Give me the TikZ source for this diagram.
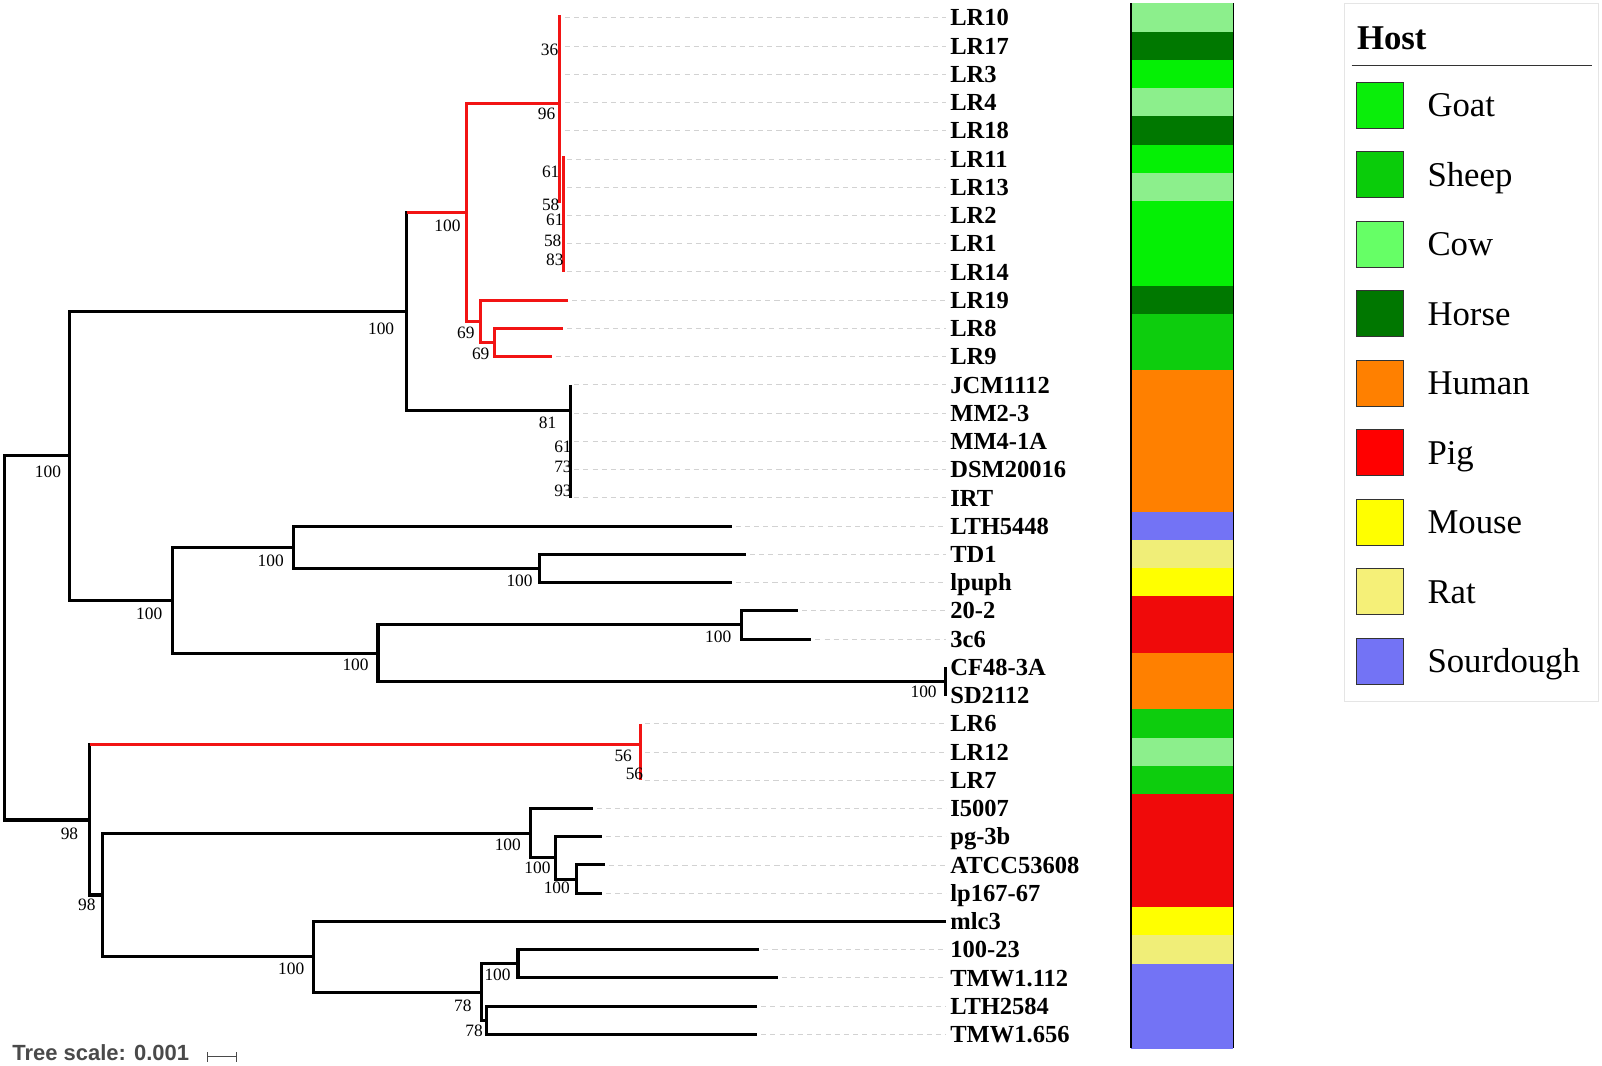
\documentclass[tikz,border=0pt]{standalone}
\usepackage{fontspec}
\setmainfont{Liberation Serif}
\newfontfamily\sansbold{Liberation Sans}
\definecolor{treered}{HTML}{F21414}
\definecolor{sGoat}{HTML}{05F005}
\definecolor{sCow}{HTML}{8CEF8C}
\definecolor{sHorse}{HTML}{007800}
\definecolor{sSheep}{HTML}{0DCD0D}
\definecolor{sHuman}{HTML}{FF8000}
\definecolor{sPig}{HTML}{F00A0A}
\definecolor{sMouse}{HTML}{FFFF00}
\definecolor{sRat}{HTML}{F0EE78}
\definecolor{sSour}{HTML}{7373F5}
\definecolor{lGoat}{HTML}{0AEE0A}
\definecolor{lSheep}{HTML}{0ACC0A}
\definecolor{lCow}{HTML}{66FF66}
\definecolor{lHorse}{HTML}{007700}
\definecolor{lHuman}{HTML}{FF8000}
\definecolor{lPig}{HTML}{FF0000}
\definecolor{lMouse}{HTML}{FFFF00}
\definecolor{lRat}{HTML}{F5F078}
\definecolor{lSour}{HTML}{7373F5}
\definecolor{scalegray}{HTML}{4A4A4A}
\begin{document}
\begin{tikzpicture}[x=1pt,y=-1pt,line join=miter,
  br/.style={line width=3pt,black},
  rbr/.style={line width=3pt,treered},
  dashline/.style={draw=gray!35,line width=0.9pt,dash pattern=on 5pt off 4pt},
  leaflab/.style={anchor=base west,inner sep=0pt,font=\fontsize{24}{26}\selectfont\bfseries},
  boot/.style={anchor=center,inner sep=0pt,font=\fontsize{17}{18}\selectfont},
  legtext/.style={anchor=base west,inner sep=0pt,font=\fontsize{34}{36}\selectfont},
  swatch/.style={draw=black!80,line width=0.8pt}]
\useasboundingbox (0,0) rectangle (1568,1043);
\fill[white] (0,0) rectangle (1568,1043);

% ---------- leaves, labels, dashed guides, colour strip ----------
\foreach \nm/\tip/\col [count=\i from 0] in {
  LR10/549/sCow, LR17/549/sHorse, LR3/549/sGoat, LR4/549/sCow, LR18/549/sHorse,
  LR11/551/sGoat, LR13/551/sCow, LR2/551/sGoat, LR1/551/sGoat, LR14/551/sGoat,
  LR19/556/sHorse, LR8/551/sSheep, LR9/540/sSheep,
  JCM1112/558/sHuman, MM2-3/558/sHuman, MM4-1A/558/sHuman, DSM20016/558/sHuman, IRT/558/sHuman,
  LTH5448/716/sSour, TD1/730/sRat, lpuph/716/sMouse, 20-2/781/sPig, 3c6/794/sPig,
  CF48-3A/925/sHuman, SD2112/925/sHuman,
  LR6/627/sSheep, LR12/627/sCow, LR7/627/sSheep,
  I5007/580/sPig, pg-3b/589/sPig, ATCC53608/592/sPig, lp167-67/589/sPig,
  mlc3/926/sMouse, 100-23/743/sRat, TMW1.112/761/sSour, LTH2584/741/sSour, TMW1.656/741/sSour}{
  \pgfmathsetmacro{\yy}{17.4+27.64*\i}
  \coordinate (t\i) at (\tip,\yy);
  \node[leaflab] (lab\i) at (930,\yy+8) {\nm};
  \ifnum\tip<900
    \draw[dashline] ([xshift=4pt]t\i) -- ([xshift=-4pt]lab\i.west |- t\i);
  \fi
  \fill[\col] (1107,\yy-14.1) rectangle (1207,\yy+14.1);
}
\coordinate (stripTL) at (1107,3);
\coordinate (stripBL) at (1107,1026);
\coordinate (stripTR) at (1207,3);
\coordinate (stripBR) at (1207,1026);
\draw[line width=1.3pt] (stripTL) -- (stripBL);
\draw[line width=1.3pt] (stripTR) -- (stripBR);

% ---------- internal nodes ----------
\coordinate (root) at (4,524.4);
\coordinate (A) at (68,446.2);
\coordinate (A1) at (398,304.9);
\coordinate (C) at (457,207.7);
\coordinate (C1) at (548,101);
\coordinate (C2) at (470,314.5);
\coordinate (C2b) at (484,335.2);
\coordinate (H) at (558,402);
\coordinate (A2) at (169,587.5);
\coordinate (D1) at (287,535.6);
\coordinate (D1b) at (528,556.3);
\coordinate (D2) at (370,639.3);
\coordinate (D2a) at (726,611.5);
\coordinate (D2b) at (925,667.1);
\coordinate (B) at (88,802.6);
\coordinate (R) at (627,729.1);
\coordinate (B2) at (100,876);
\coordinate (F) at (519,815.5);
\coordinate (F2) at (544,839.7);
\coordinate (F3) at (564,860.4);
\coordinate (E) at (307,936.5);
\coordinate (E2) at (471,971);
\coordinate (E3) at (507,943.4);
\coordinate (E4) at (476,998.6);
\coordinate (cat1top) at (548,15);
\coordinate (cat1bot) at (548,199);
\coordinate (cat2top) at (551.5,153);
\coordinate (cat2bot) at (551.5,266.5);

% ---------- black branches ----------
\draw[br] (A) -| (root) |- (B);
\draw[br] (A1) -| (A) |- (A2);
\draw[br] (C) -| (A1) |- (H);
\draw[br] (H |- t13) -- (H |- t17);
\draw[br] (D1) -| (A2) |- (D2);
\draw[br] (t18) -| (D1) |- (D1b);
\draw[br] (t19) -| (D1b) |- (t20);
\draw[br] (D2a) -| (D2) |- (D2b);
\draw[br] (t21) -| (D2a) |- (t22);
\draw[br] (D2b |- t23) -- (D2b |- t24);
\draw[br] (R) -| (B) |- (B2);
\draw[br] (F) -| (B2) |- (E);
\draw[br] (t28) -| (F) |- (F2);
\draw[br] (t29) -| (F2) |- (F3);
\draw[br] (t30) -| (F3) |- (t31);
\draw[br] (t32) -| (E) |- (E2);
\draw[br] (E3) -| (E2) |- (E4);
\draw[br] (t33) -| (E3) |- (t34);
\draw[br] (t35) -| (E4) |- (t36);

% ---------- red branches ----------
\draw[rbr] (A1 |- C) -- (C);
\draw[rbr] (C1) -| (C) |- (C2);
\draw[rbr] (t10) -| (C2) |- (C2b);
\draw[rbr] (t11) -| (C2b) |- (t12);
\draw[rbr] (cat1top) -- (cat1bot);
\draw[rbr] (cat2top) -- (cat2bot);
\draw[rbr] (B |- R) -- (R);
\draw[rbr] (R |- t25) -- (R |- t27);

% ---------- bootstrap values ----------
\node[boot] (bA) at (47,462) {100};
\node[boot] (bA1) at (373,322) {100};
\node[boot] (bC) at (438,221) {100};
\node[boot] (bC1) at (535,111) {96};
\node[boot] (b36) at (538,49) {36};
\node[boot] (bc61a) at (539,168) {61};
\node[boot] (bc58a) at (539,200.5) {58};
\node[boot] (bc61b) at (543,215) {61};
\node[boot] (bc58b) at (541,235.5) {58};
\node[boot] (bc83) at (543,254) {83};
\node[boot] (bC2) at (456,326) {69};
\node[boot] (bC2b) at (470.5,346) {69};
\node[boot] (bH) at (536,414) {81};
\node[boot] (bH61) at (551,437) {61};
\node[boot] (bH73) at (551,457) {73};
\node[boot] (bH93) at (551,480) {93};
\node[boot] (bA2) at (146,601) {100};
\node[boot] (bD1) at (265,549) {100};
\node[boot] (bD1b) at (508.5,568) {100};
\node[boot] (bD2) at (348,651) {100};
\node[boot] (bD2a) at (703,623.5) {100};
\node[boot] (bD2b) at (904,677.5) {100};
\node[boot] (bR1) at (610,740) {56};
\node[boot] (bR2) at (621,757) {56};
\node[boot] (bB) at (68,816) {98};
\node[boot] (bB2) at (85,886) {98};
\node[boot] (bF) at (497,827) {100};
\node[boot] (bF2) at (526,849) {100};
\node[boot] (bF3) at (545,869) {100};
\node[boot] (bE) at (285,948) {100};
\node[boot] (bE3) at (487,954) {100};
\node[boot] (bE2) at (453,984) {78};
\node[boot] (bE4) at (464,1009) {78};

% ---------- tree scale ----------
\node[anchor=base west,inner sep=0pt,text=scalegray,font=\sansbold\bfseries\fontsize{21.5}{23}\selectfont] (scaletxt) at (12,1038) {Tree scale: 0.001};
\coordinate (sbL) at (203,1034.5);
\coordinate (sbR) at (231.5,1034.5);
\draw[scalegray,line width=1pt] (sbL) -- (sbR);
\draw[scalegray,line width=1pt] ([yshift=-4.5pt]sbL) -- ([yshift=4.5pt]sbL);
\draw[scalegray,line width=1pt] ([yshift=-4.5pt]sbR) -- ([yshift=4.5pt]sbR);

% ---------- legend ----------
\draw[draw=black!10,line width=1pt] (1316,3) rectangle (1565,687);
\node[anchor=base west,inner sep=0pt,font=\fontsize{34}{36}\selectfont\bfseries] (host) at (1328,48) {Host};
\coordinate (hlL) at (1323,64);
\coordinate (hlR) at (1558,64);
\draw[black!80,line width=1.1pt] (hlL) -- (hlR);
\foreach \lab/\col [count=\k from 0] in {Goat/lGoat, Sheep/lSheep, Cow/lCow, Horse/lHorse, Human/lHuman, Pig/lPig, Mouse/lMouse, Rat/lRat, Sourdough/lSour}{
  \pgfmathsetmacro{\ly}{103+68*\k}
  \draw[swatch,fill=\col] (1328,\ly-22.5) rectangle (1374,\ly+22.5);
  \node[legtext] (leg\k) at (1397,\ly+11.5) {\lab};
}
\end{tikzpicture}
\end{document}
